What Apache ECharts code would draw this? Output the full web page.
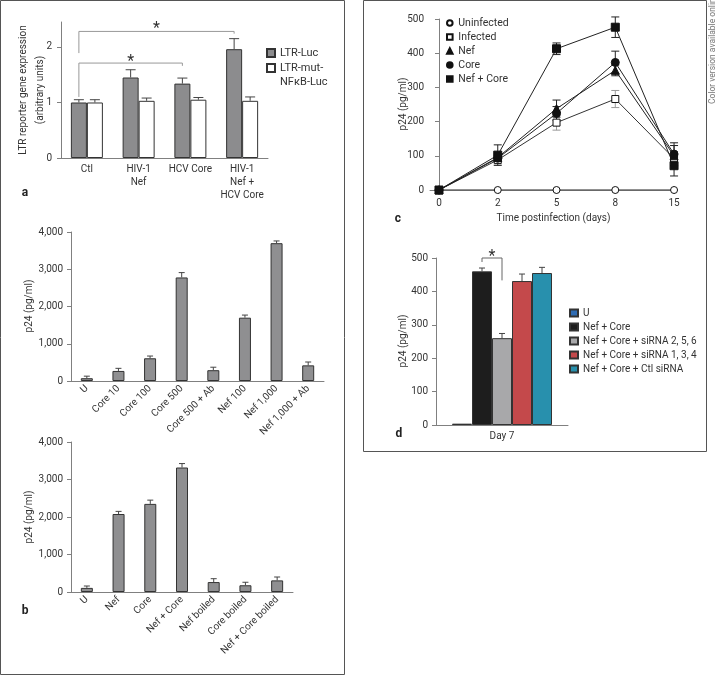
<!DOCTYPE html>
<html>
<head>
<meta charset="utf-8">
<script src="https://cdn.jsdelivr.net/npm/echarts/dist/echarts.min.js"></script>
<style>
  html, body { margin: 0; padding: 0; background: #fff; }
  #main { width: 717px; height: 676px; }
</style>
</head>
<body>
<div id="main"></div>
<script>
// panel a
var aCats = ['Ctl', 'HIV-1\nNef', 'HCV Core', 'HIV-1\nNef +\nHCV Core'];
var ltrLuc = [1.0, 1.45, 1.34, 1.96];
var ltrLucErr = [0.05, 0.14, 0.10, 0.19];
var ltrMut = [1.0, 1.03, 1.05, 1.03];
var ltrMutErr = [0.05, 0.05, 0.04, 0.07];
var aTicks = [0, 1, 2];

// panel b (top and bottom)
var b1Cats = ['U', 'Core 10', 'Core 100', 'Core 500', 'Core 500 + Ab', 'Nef 100', 'Nef 1,000', 'Nef 1,000 + Ab'];
var b1Vals = [75, 270, 610, 2780, 290, 1700, 3700, 420];
var b1Errs = [55, 70, 60, 130, 80, 70, 60, 90];
var b2Cats = ['U', 'Nef', 'Core', 'Nef + Core', 'Nef boiled', 'Core boiled', 'Nef + Core boiled'];
var b2Vals = [110, 2080, 2350, 3320, 265, 180, 310];
var b2Errs = [50, 70, 100, 105, 90, 80, 90];

// panel c
var days = ['0', '2', '5', '8', '15'];
var uninfected = [0, 0, 0, 0, 0];
var infected = [0, 88, 197, 266, 92];
var infectedErr = [0, 12, 22, 25, 20];
var nef = [0, 95, 238, 350, 100];
var nefErr = [0, 10, 25, 16, 30];
var core = [0, 93, 224, 373, 105];
var coreErr = [0, 8, 20, 33, 33];
var nefCore = [0, 102, 413, 476, 71];
var nefCoreErr = [0, 30, 17, 30, 30];

// panel d
var dCats = ['Day 7'];
var dNames = ['U', 'Nef + Core', 'Nef + Core + siRNA 2, 5, 6', 'Nef + Core + siRNA 1, 3, 4', 'Nef + Core + Ctl siRNA'];
var dVals = [4, 460, 260, 431, 455];
var dErrs = [0, 10, 14, 21, 17];
var dColors = ['#2f6cb3', '#1d1d1d', '#a8a8aa', '#c4494b', '#2890ad'];

var FONT = 'Roboto';
var FS = 10;
var TXT = '#333';
var AXC = '#808080';
var A_BAR = 16, B_BAR = 12, D_BAR = 20;

function comma(v) { return v.toLocaleString('en-US'); }

function errBars(gi, vals, errs, dx, cap, both, color, z) {
  return {
    type: 'custom',
    xAxisIndex: gi, yAxisIndex: gi,
    z: z || 3,
    silent: true,
    data: vals.map(function (v, i) { return [i, v, errs[i]]; }),
    encode: { x: 0, y: 1 },
    renderItem: function (params, api) {
      var e = api.value(2);
      if (!e) return;
      var x = api.value(0), v = api.value(1);
      var top = api.coord([x, v + e]);
      var bot = api.coord([x, both ? v - e : v]);
      var cx = top[0] + dx, h = cap / 2;
      var st = { stroke: color, lineWidth: 1 };
      var kids = [
        { type: 'line', shape: { x1: cx, y1: top[1], x2: cx, y2: bot[1] }, style: st },
        { type: 'line', shape: { x1: cx - h, y1: top[1], x2: cx + h, y2: top[1] }, style: st }
      ];
      if (both) kids.push({ type: 'line', shape: { x1: cx - h, y1: bot[1], x2: cx + h, y2: bot[1] }, style: st });
      return { type: 'group', children: kids };
    }
  };
}

function yAx(gi, max, interval, margin, extra) {
  var o = {
    gridIndex: gi, type: 'value', min: 0, max: max, interval: interval,
    axisLine: { show: true, lineStyle: { color: AXC } },
    axisTick: { show: true, length: 4, lineStyle: { color: AXC } },
    axisLabel: { fontFamily: FONT, fontSize: FS, color: TXT, margin: margin },
    splitLine: { show: false }
  };
  if (extra) extra(o);
  return o;
}

function catAx(gi, cats, label) {
  return {
    gridIndex: gi, type: 'category', data: cats,
    axisLine: { lineStyle: { color: AXC } },
    axisTick: { length: 4, lineStyle: { color: AXC } },
    axisLabel: Object.assign({ fontFamily: FONT, fontSize: FS, color: TXT, interval: 0 }, label)
  };
}

var chart = echarts.init(document.getElementById('main'));

var series = [
  { name: 'LTR-Luc', type: 'bar', xAxisIndex: 0, yAxisIndex: 0, data: ltrLuc, barWidth: A_BAR, barGap: '0%',
    itemStyle: { color: '#8c8c8e', borderColor: '#333', borderWidth: 1 } },
  { name: 'LTR-mut-\nNFκB-Luc', type: 'bar', xAxisIndex: 0, yAxisIndex: 0, data: ltrMut, barWidth: A_BAR, barGap: '0%',
    itemStyle: { color: '#fff', borderColor: '#333', borderWidth: 1 } },
  errBars(0, ltrLuc, ltrLucErr, -A_BAR / 2, 10, false, '#444'),
  errBars(0, ltrMut, ltrMutErr, A_BAR / 2, 10, false, '#444'),

  { name: 'b1', type: 'bar', xAxisIndex: 1, yAxisIndex: 1, data: b1Vals, barWidth: B_BAR,
    itemStyle: { color: '#8f8f91', borderColor: '#333', borderWidth: 1 } },
  errBars(1, b1Vals, b1Errs, 0, 6, false, '#444'),
  { name: 'b2', type: 'bar', xAxisIndex: 2, yAxisIndex: 2, data: b2Vals, barWidth: B_BAR,
    itemStyle: { color: '#8f8f91', borderColor: '#333', borderWidth: 1 } },
  errBars(2, b2Vals, b2Errs, 0, 6, false, '#444')
];

// panel c lines
var cDefs = [
  { name: 'Uninfected', data: uninfected, err: null, symbol: 'circle', size: 7, fill: '#fff', line: '#222', ec: '#222' },
  { name: 'Infected', data: infected, err: infectedErr, symbol: 'rect', size: 7, fill: '#fff', line: '#333', ec: '#999' },
  { name: 'Nef', data: nef, err: nefErr, symbol: 'triangle', size: 8, fill: '#111', line: '#222', ec: '#222' },
  { name: 'Core', data: core, err: coreErr, symbol: 'circle', size: 8, fill: '#111', line: '#222', ec: '#222' },
  { name: 'Nef + Core', data: nefCore, err: nefCoreErr, symbol: 'rect', size: 8, fill: '#111', line: '#222', ec: '#222' }
];
cDefs.forEach(function (d) {
  if (d.err) series.push(errBars(3, d.data, d.err, 0, 8, true, d.ec, 1));
});
cDefs.forEach(function (d) {
  series.push({
    name: d.name, type: 'line', xAxisIndex: 3, yAxisIndex: 3, z: 4,
    data: d.data.map(function (v, i) { return [i, v]; }),
    symbol: d.symbol, symbolSize: d.size, showAllSymbol: true,
    lineStyle: { color: d.line, width: 1 },
    itemStyle: { color: d.fill, borderColor: '#111', borderWidth: 1 }
  });
});

// panel d bars
dNames.forEach(function (n, i) {
  series.push({
    name: 'd|' + n, type: 'bar', xAxisIndex: 4, yAxisIndex: 4, data: [dVals[i]],
    barWidth: D_BAR, barGap: '0%',
    itemStyle: { color: dColors[i], borderColor: '#333', borderWidth: 1 }
  });
});
dNames.forEach(function (n, i) {
  series.push(errBars(4, [dVals[i]], [dErrs[i]], (i - 2) * D_BAR, 6, false, '#444'));
});

var legA = { fontFamily: FONT, fontSize: 11, color: TXT, lineHeight: 14 };
var legC = { fontFamily: FONT, fontSize: 10.5, color: TXT, lineHeight: 14 };
var legD = { fontFamily: FONT, fontSize: 10, color: TXT, lineHeight: 14 };

var option = {
  animation: false,
  textStyle: { fontFamily: FONT },
  grid: [
    { left: 61, top: 22, width: 207, height: 136 },
    { left: 71, top: 232, width: 253, height: 149 },
    { left: 71, top: 442, width: 222, height: 150 },
    { left: 430, top: 19, width: 247, height: 171 },
    { left: 436, top: 258, width: 132, height: 167 }
  ],
  xAxis: [
    catAx(0, aCats, { margin: 5, lineHeight: 13 }),
    catAx(1, b1Cats, { rotate: 45, margin: 6 }),
    catAx(2, b2Cats, { rotate: 45, margin: 6 }),
    {
      gridIndex: 3, type: 'value', min: -0.153, max: 4.05,
      name: 'Time postinfection (days)', nameLocation: 'middle', nameGap: 23,
      nameTextStyle: { fontFamily: FONT, fontSize: FS, color: TXT },
      axisLine: { lineStyle: { color: AXC } },
      axisTick: { length: 4, lineStyle: { color: AXC }, customValues: [0, 1, 2, 3, 4] },
      axisLabel: { fontFamily: FONT, fontSize: FS, color: TXT, margin: 8, customValues: [0, 1, 2, 3, 4],
        formatter: function (v) { return days[Math.round(v)]; } },
      splitLine: { show: false }
    },
    catAx(4, dCats, { margin: 6 })
  ],
  yAxis: [
    yAx(0, 2.45, 1, 9, function (o) {
      o.axisTick.customValues = aTicks;
      o.axisLabel.customValues = aTicks;
    }),
    yAx(1, 4000, 1000, 8, function (o) { o.axisLabel.formatter = comma; }),
    yAx(2, 4000, 1000, 8, function (o) { o.axisLabel.formatter = comma; }),
    yAx(3, 500, 100, 6),
    yAx(4, 500, 100, 8)
  ],
  legend: [
    { data: ['LTR-Luc'], left: 266, top: 46, padding: 0, orient: 'vertical',
      itemWidth: 8, itemHeight: 8, icon: 'rect', textStyle: legA },
    { data: ['LTR-mut-\nNFκB-Luc'], left: 266, top: 47, padding: 0, orient: 'vertical',
      itemWidth: 8, itemHeight: 8, icon: 'rect', textStyle: legA,
      formatter: function (n) { return ' \n' + n; } },
    { data: cDefs.map(function (d) { return d.name; }), left: 446, top: 16, padding: 0, orient: 'vertical',
      itemWidth: 7, itemHeight: 7, itemGap: 0, textStyle: legC,
      lineStyle: { width: 0 } },
    { data: dNames.map(function (n) { return 'd|' + n; }), left: 569, top: 306, padding: 0, orient: 'vertical',
      itemWidth: 8, itemHeight: 7, itemGap: 0, icon: 'rect', textStyle: legD,
      formatter: function (n) { return n.slice(2); } }
  ],
  series: series
};

chart.setOption(option);

// brackets, stars, axis titles, panel letters, frames
var brackets = [
  { gi: 0, from: 0, dxFrom: -A_BAR / 2, to: 3, dxTo: -A_BAR / 2, level: 2.28, dropL: 1.89, dropR: 2.24, star: 2.39, color: '#999' },
  { gi: 0, from: 0, dxFrom: -A_BAR / 2, to: 2, dxTo: -A_BAR / 2, level: 1.71, dropL: 1.10, dropR: 1.66, star: 1.81, color: '#999' },
  { gi: 4, from: 0, dxFrom: -D_BAR, to: 0, dxTo: 0, level: 500, dropL: 488, dropR: 433, star: 516, color: '#666' }
];

var yTitles = [
  ['LTR reporter gene expression\n(arbitrary units)', 31.5, 90],
  ['p24 (pg/ml)', 29, 306],
  ['p24 (pg/ml)', 29, 517],
  ['p24 (pg/ml)', 403, 104],
  ['p24 (pg/ml)', 403, 341]
];

function px(gi, pt) { return chart.convertToPixel({ xAxisIndex: gi, yAxisIndex: gi }, pt); }

var g = [];
brackets.forEach(function (b) {
  var x1 = px(b.gi, [b.from, 0])[0] + b.dxFrom;
  var x2 = px(b.gi, [b.to, 0])[0] + b.dxTo;
  var yT = px(b.gi, [b.from, b.level])[1];
  var yL = px(b.gi, [b.from, b.dropL])[1];
  var yR = px(b.gi, [b.from, b.dropR])[1];
  var yS = px(b.gi, [b.from, b.star])[1];
  g.push({ type: 'polyline', shape: { points: [[x1, yL], [x1, yT], [x2, yT], [x2, yR]] },
    style: { stroke: b.color, lineWidth: 1, fill: null } });
  g.push({ type: 'text', x: (x1 + x2) / 2, y: yS + 4,
    style: { text: '*', fontFamily: FONT, fontSize: 16, fill: '#333', align: 'center', verticalAlign: 'middle' } });
});

yTitles.forEach(function (t) {
  g.push({ type: 'text', x: t[1], y: t[2], rotation: Math.PI / 2,
    style: { text: t[0], fontFamily: FONT, fontSize: FS, lineHeight: 17, fill: TXT, align: 'center', verticalAlign: 'middle' } });
});

[['a', 25, 193], ['b', 25, 611], ['c', 398, 219], ['d', 399, 434]].forEach(function (l) {
  g.push({ type: 'text', x: l[1], y: l[2],
    style: { text: l[0], fontFamily: FONT, fontSize: 12, fontWeight: 'bold', fill: '#222', align: 'center', verticalAlign: 'middle' } });
});

g.push({ type: 'rect', shape: { x: 0.5, y: 0.5, width: 344, height: 674 }, style: { fill: null, stroke: '#555', lineWidth: 1 } });
g.push({ type: 'rect', shape: { x: 363.5, y: 0.5, width: 343, height: 451 }, style: { fill: null, stroke: '#555', lineWidth: 1 } });
g.push({ type: 'text', x: 713, y: 104, rotation: Math.PI / 2,
  style: { text: 'Color version available online', fontFamily: FONT, fontSize: 8.5, fill: '#777', align: 'left', verticalAlign: 'middle' } });

chart.setOption({ graphic: g });
</script>
</body>
</html>
